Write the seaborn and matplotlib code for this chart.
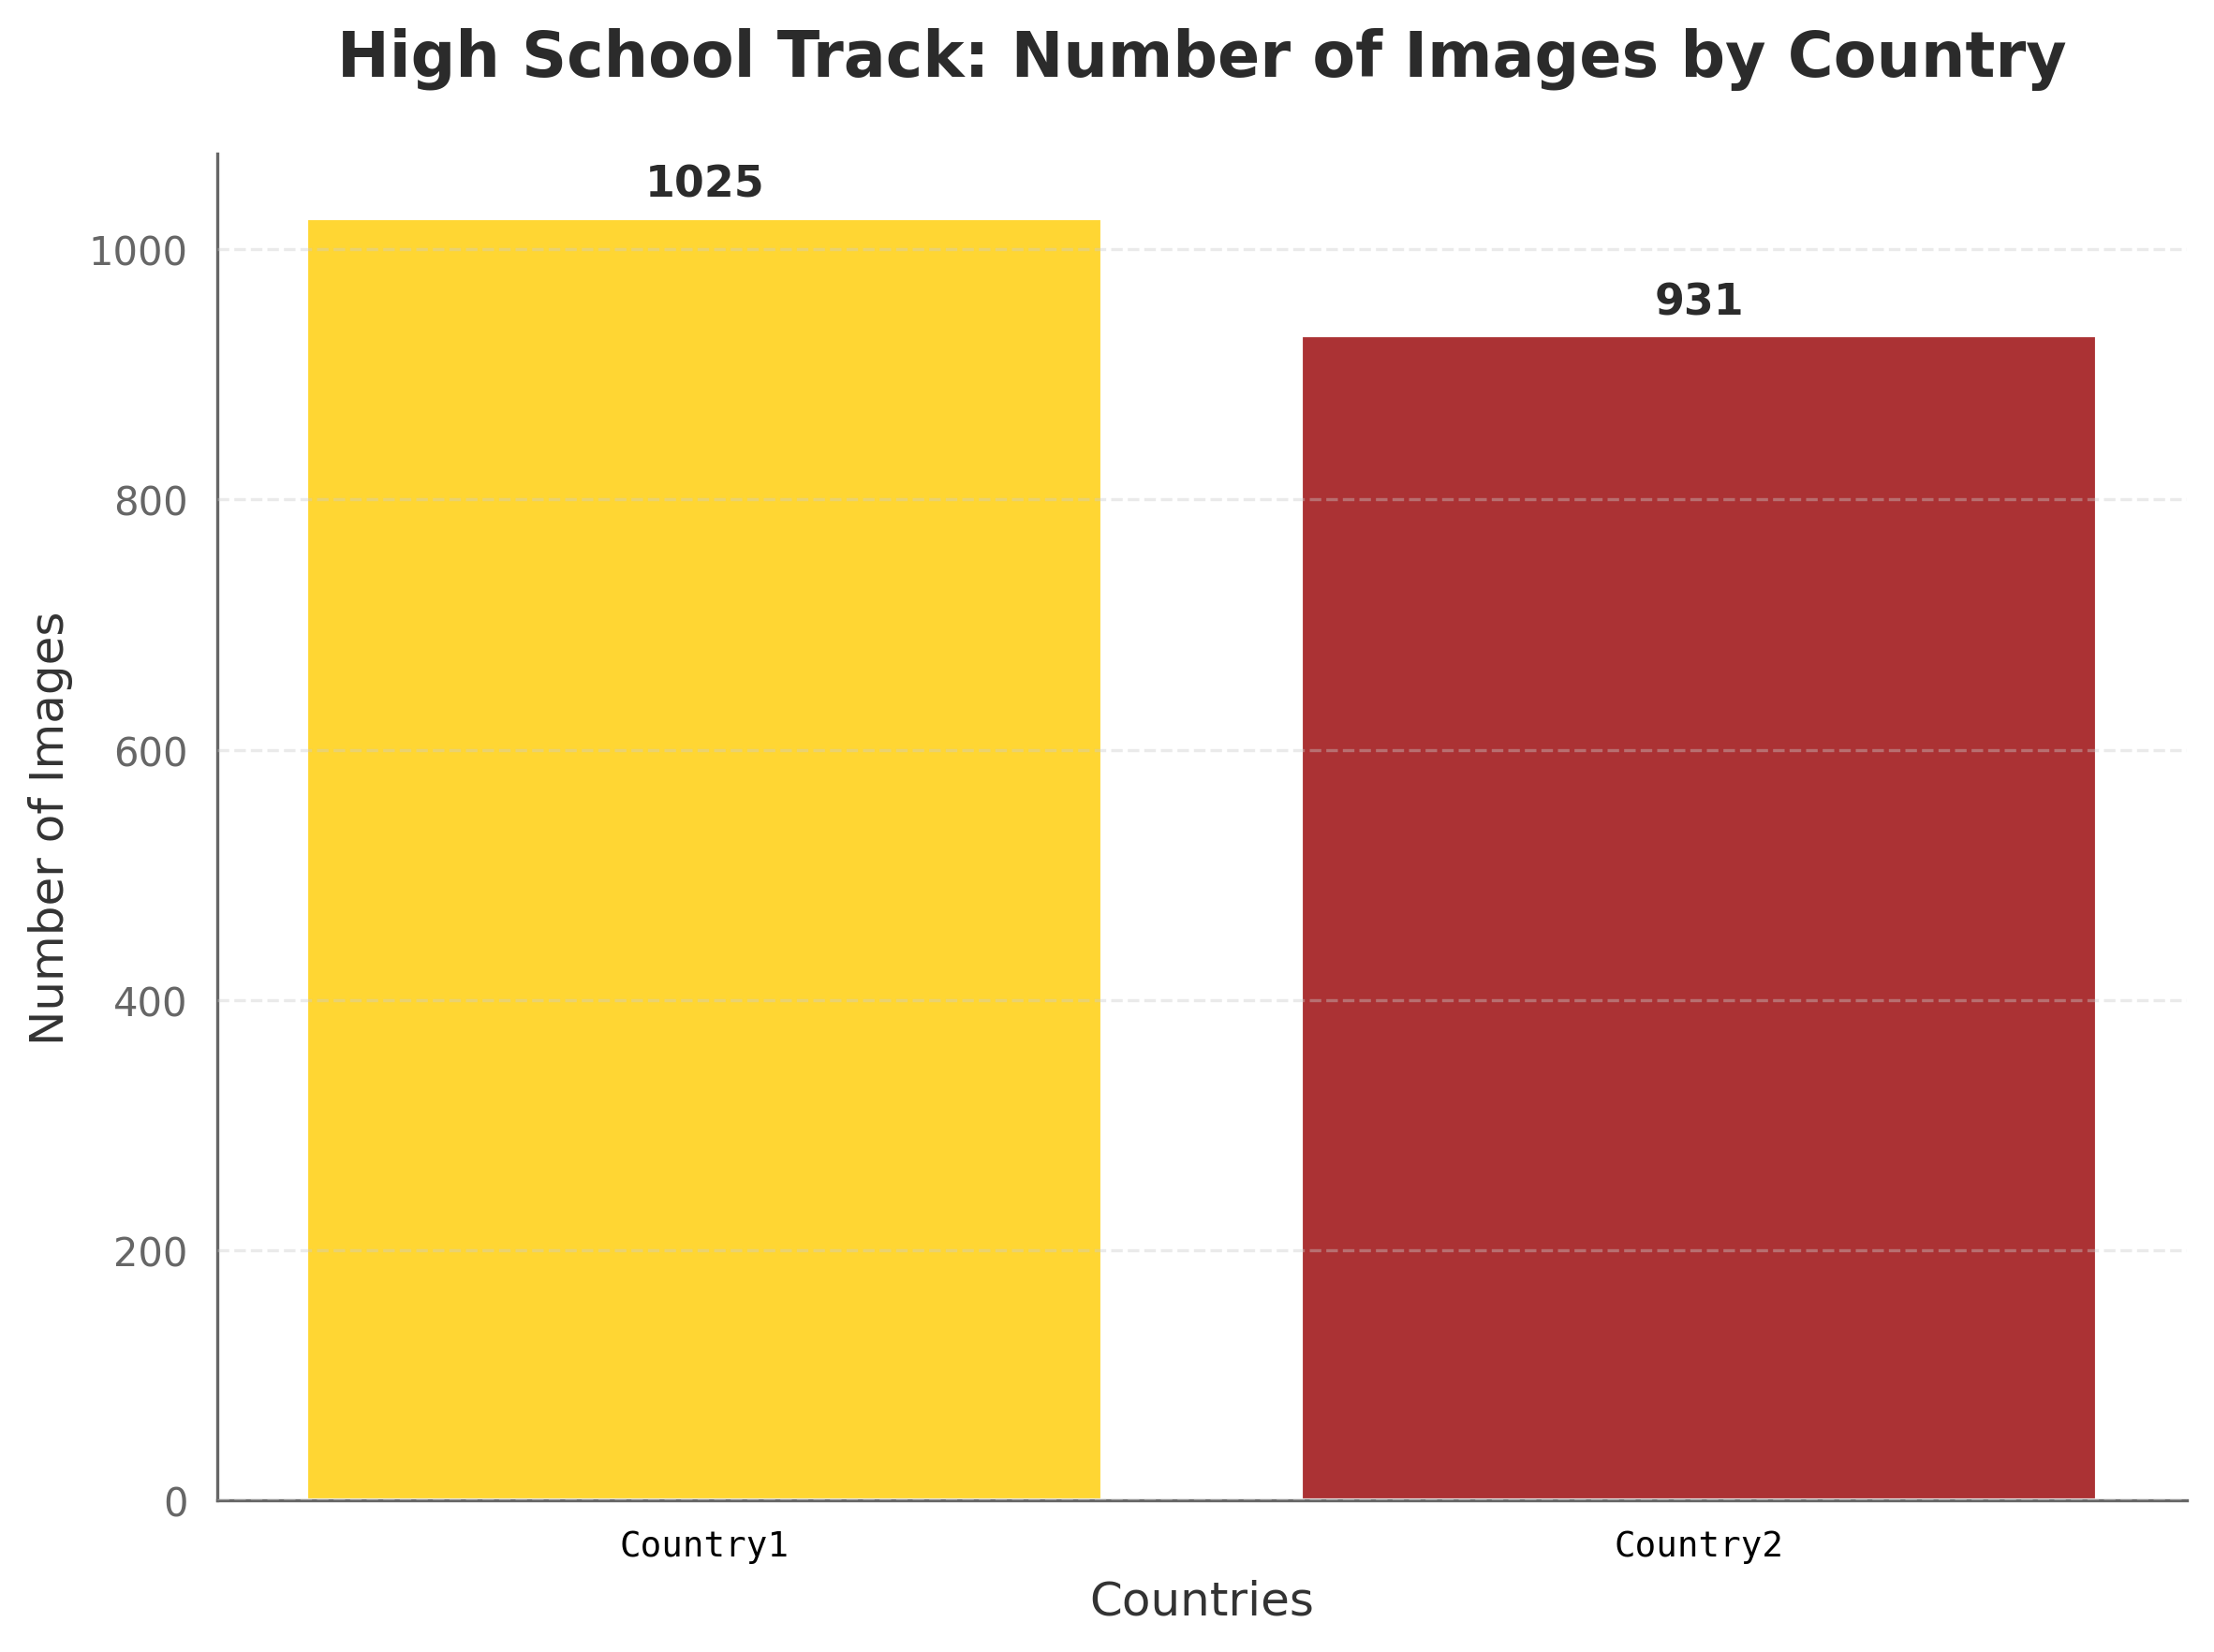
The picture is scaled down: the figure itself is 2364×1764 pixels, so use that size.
import pandas as pd
import seaborn as sns
import matplotlib.pyplot as plt

# Chart values
countries = ["Country1", "Country2"]
image_counts = [1025, 931]
bar_colors = ["#FFD633", "#AB3234"]

df = pd.DataFrame({"Country": countries, "Images": image_counts})

sns.set_style("white")
plt.rcParams['font.family'] = ['DejaVu Sans']

fig, ax = plt.subplots(figsize=(8, 6))
sns.barplot(data=df, x="Country", y="Images", hue="Country",
            palette=bar_colors, saturation=1, width=0.8,
            legend=False, ax=ax)

# value labels above bars
for i, v in enumerate(image_counts):
    ax.text(i, v + 10, str(v), ha='center', va='bottom',
            fontsize=11, fontweight='bold', color='#2b2b2b')

ax.set_xlim(-0.49, len(countries) - 0.51)
ax.set_ylim(0, max(image_counts) * 1.05)

ax.set_title('High School Track: Number of Images by Country',
             fontsize=16, fontweight='bold', color='#2b2b2b', pad=20)
ax.set_xlabel('Countries', fontsize=12, color='#333333')
ax.set_ylabel('Number of Images', fontsize=12, color='#333333')

# grid and spines
ax.set_axisbelow(False)
ax.yaxis.grid(True, linestyle='--', color='#cccccc', alpha=0.4, linewidth=0.8)
sns.despine(ax=ax)
for s in ['left', 'bottom']:
    ax.spines[s].set_color('#666666')
    ax.spines[s].set_linewidth(0.8)

ax.tick_params(axis='y', colors='#666666', labelsize=10, length=4, width=0.8)
ax.tick_params(axis='x', colors='#666666', labelsize=9, length=4, width=0.8)
for lbl in ax.get_xticklabels():
    lbl.set_fontfamily('DejaVu Sans Mono')
    lbl.set_color('black')

plt.tight_layout()
plt.savefig('out.png', dpi=300, bbox_inches='tight')
